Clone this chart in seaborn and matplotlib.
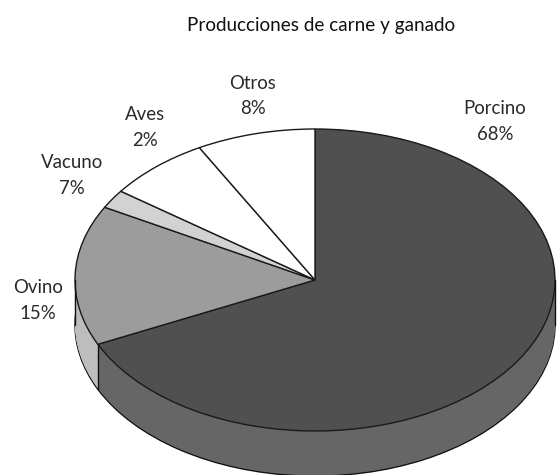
import numpy as np
import matplotlib
matplotlib.use("Agg")
import matplotlib.pyplot as plt
import seaborn as sns

# Data
slice_names = ["Porcino", "Ovino", "Gris claro", "Blanco A", "Blanco B"]
slice_values = [68, 15, 2, 7, 8]
label_names = ["Porcino", "Ovino", "Vacuno", "Aves", "Otros"]
label_values = ["68%", "15%", "7%", "2%", "8%"]
title_text = "Producciones de carne y ganado"

# Styles
top_colors = ["#505050", "#9c9c9c", "#d2d2d2", "#ffffff", "#ffffff"]
side_colors = ["#666666", "#bdbdbd", "#dddddd", "#ffffff", "#ffffff"]
W, H = 558, 475
CX, CY, RX, RY, DEPTH = 315, 280, 240, 151, 45
label_px = [(495, 121.5), (38, 300.5), (72, 175.5), (145, 127.5), (253, 96)]

sns.set_theme(style="white")
plt.rcParams["font.family"] = ["Lato", "DejaVu Sans"]

fig = plt.figure(figsize=(W / 100, H / 100), dpi=100, facecolor="white")
ax = fig.add_axes([0, 0, 1, 1])

depth_units = DEPTH / RY
layers = 46
for k in range(layers):
    off = -depth_units * (1 - k / (layers - 1))
    edge = "#111111" if k == 0 else "none"
    ax.pie(slice_values, colors=sns.color_palette(side_colors), startangle=90,
           counterclock=False, center=(0, off),
           wedgeprops=dict(linewidth=1.0 if k == 0 else 0, edgecolor=edge))

ax.pie(slice_values, colors=sns.color_palette(top_colors), startangle=90,
       counterclock=False, center=(0, 0),
       wedgeprops=dict(linewidth=1.0, edgecolor="#1a1a1a"))

# Vertical edge where the first slice ends, and the side silhouette
end = np.deg2rad(90 - 360 * slice_values[0] / sum(slice_values))
ax.plot([np.cos(end)] * 2, [np.sin(end), np.sin(end) - depth_units], color="#111111", lw=1.0)
ax.plot([-1, -1], [0, -depth_units], color="#111111", lw=1.0)
ax.plot([1, 1], [0, -depth_units], color="#111111", lw=1.0)

ax.set_aspect("auto")
ax.set_xlim(-CX / RX, (W - CX) / RX)
ax.set_ylim(-(H - CY) / RY, CY / RY)
ax.axis("off")

txt = "#2a2a2a"
fig.text(321 / W, 1 - 25 / H, title_text, ha="center", va="center", fontsize=13.6, color="#111111")
for name, val, (px, py) in zip(label_names, label_values, label_px):
    fig.text(px / W, 1 - py / H, f"{name}\n{val}", ha="center", va="center",
             fontsize=13.4, color=txt, linespacing=1.58)

fig.savefig("out.png", dpi=100)
